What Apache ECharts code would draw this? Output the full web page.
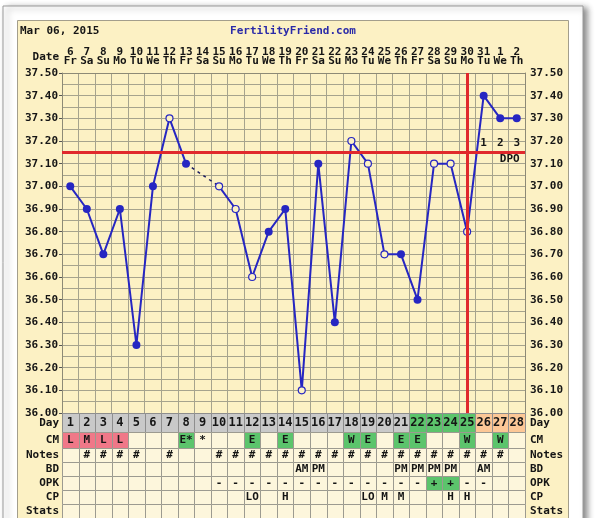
<!DOCTYPE html>
<html>
<head>
<meta charset="utf-8">
<script src="https://cdn.jsdelivr.net/npm/echarts@6/dist/echarts.min.js"></script>
<style>
html,body{margin:0;padding:0;background:#ffffff;}
#chart{width:600px;height:518px;}
</style>
</head>
<body>
<div id="chart"></div>
<script>
// ---------- data ----------
const chartDate = 'Mar 06, 2015';
const siteName = 'FertilityFriend.com';
const cycleDays = ['1','2','3','4','5','6','7','8','9','10','11','12','13','14','15','16','17','18','19','20','21','22','23','24','25','26','27','28'];
const dates = ['6','7','8','9','10','11','12','13','14','15','16','17','18','19','20','21','22','23','24','25','26','27','28','29','30','31','1','2'];
const weekdays = ['Fr','Sa','Su','Mo','Tu','We','Th','Fr','Sa','Su','Mo','Tu','We','Th','Fr','Sa','Su','Mo','Tu','We','Th','Fr','Sa','Su','Mo','Tu','We','Th'];
const temps = [37.00,36.90,36.70,36.90,36.30,37.00,37.30,37.10,null,37.00,36.90,36.60,36.80,36.90,36.10,37.10,36.40,37.20,37.10,36.70,36.70,36.50,37.10,37.10,36.80,37.40,37.30,37.30];
const openMarks = [0,0,0,0,0,0,1,0,0,1,1,1,0,0,1,0,0,1,1,1,0,0,1,1,1,0,0,0];
const coverline = 37.15;
const ovulationDay = '25';
const fertileDays = ['22','23','24','25'];
const dpoDays = ['26','27','28'];
const dpoLabels = ['1','2','3'];
const tempTicks = ['36.00','36.10','36.20','36.30','36.40','36.50','36.60','36.70','36.80','36.90','37.00','37.10','37.20','37.30','37.40','37.50'];
const rowNames = ['Day','CM','Notes','BD','OPK','CP','Stats'];
const cm    = ['L','M','L','L','','','','E*','*','','','E','','E','','','','W','E','','E','E','','','W','','W',''];
const notes = ['','#','#','#','#','','#','','','#','#','#','#','#','#','#','#','#','#','#','#','#','#','#','#','#','#',''];
const bd    = ['','','','','','','','','','','','','','','AM','PM','','','','','PM','PM','PM','PM','','AM','',''];
const opk   = ['','','','','','','','','','-','-','-','-','-','-','-','-','-','-','-','-','-','+','+','-','-','',''];
const cp    = ['','','','','','','','','','','','LO','','H','','','','','LO','M','M','','','H','H','','',''];
const stats = ['','','','','','','','','','','','','','','','','','','','','','','','','','','',''];

// ---------- styles ----------
const FONT = '"DejaVu Sans Mono", monospace';
const BEIGE = '#fcf1c4';
const CELL = '#fdf6dc';
const GRIDC = '#a6a38d';
const BLUE = '#2626c2';
const RED = '#e0282c';
const TXT = '#151515';
const rowWeights = [19,16,14,14,14,14,14];

const tableRows = [cycleDays, cm, notes, bd, opk, cp, stats];

function cellFill(r, d) {
  const v = tableRows[r][d];
  if (r === 0) {
    if (fertileDays.indexOf(cycleDays[d]) >= 0) return '#5cc46c';
    if (Number(cycleDays[d]) > Number(ovulationDay)) return '#fcc796';
    return '#c9c9c9';
  }
  if (r === 1) {
    if (v === 'L' || v === 'M') return '#f07888';
    if (v === 'E' || v === 'W' || v === 'E*') return '#5cc46c';
  }
  if (r === 4 && v === '+') return '#5cc46c';
  return CELL;
}

function rowBounds(cs, r) {
  const total = rowWeights.reduce((a, b) => a + b, 0);
  let y0 = cs.y;
  for (let i = 0; i < r; i++) y0 += cs.height * rowWeights[i] / total;
  return [y0, cs.height * rowWeights[r] / total];
}

const cellData = [];
for (let r = 0; r < rowNames.length; r++)
  for (let d = 0; d < cycleDays.length; d++) cellData.push([d, r]);

const tempData = temps.map((t, i) => {
  if (t === null) return '-';
  const open = openMarks[i] === 1;
  return {
    value: t,
    symbol: 'circle',
    symbolSize: open ? 7 : 8,
    itemStyle: open ? {color: BEIGE, borderColor: BLUE, borderWidth: 1.2} : {color: BLUE, borderWidth: 0}
  };
});
const gapData = temps.map((t, i) => {
  if (t === null) return '-';
  const near = (i > 0 && temps[i - 1] === null) || (i < temps.length - 1 && temps[i + 1] === null);
  return near ? t : '-';
});

const chart = echarts.init(document.getElementById('chart'), null, {renderer: 'canvas'});
const labelFont = {fontFamily: FONT, fontWeight: 'bold', fontSize: 11, color: TXT};

const option = {
  animation: false,
  backgroundColor: '#ffffff',
  graphic: [
    {type: 'rect', z: -100, shape: {x: 3, y: 6, width: 580, height: 530},
      style: {fill: '#ffffff', stroke: '#9a9a9a', lineWidth: 1, shadowBlur: 6, shadowOffsetX: 4, shadowOffsetY: 2, shadowColor: 'rgba(0,0,0,0.45)'}},
    {type: 'rect', z: -90, shape: {x: 17.5, y: 20.5, width: 551, height: 520},
      style: {fill: BEIGE, stroke: '#a39e8c', lineWidth: 1}},
    {type: 'text', z: 10, style: {text: chartDate, x: 20, y: 31, verticalAlign: 'middle', font: 'bold 11px ' + FONT, fill: TXT}},
    {type: 'text', z: 10, style: {text: siteName, x: 293, y: 31, align: 'center', verticalAlign: 'middle', font: 'bold 11px ' + FONT, fill: '#2a2aa8'}},
    {type: 'text', z: 10, style: {text: 'Date', x: 59, y: 57, align: 'right', verticalAlign: 'middle', font: 'bold 11px ' + FONT, fill: TXT}}
  ],
  grid: [
    {left: 62, top: 73, width: 463, height: 340, show: true, backgroundColor: BEIGE, borderWidth: 0},
    {left: 62, top: 413, width: 463, height: 105, show: false}
  ],
  xAxis: [
    {gridIndex: 0, type: 'category', data: cycleDays, position: 'top', boundaryGap: true,
      axisLine: {show: true, lineStyle: {color: '#8d8a76', width: 1}},
      axisTick: {show: false},
      splitLine: {show: true, interval: 0, lineStyle: {color: GRIDC, width: 1}},
      axisLabel: Object.assign({interval: 0, margin: 7, lineHeight: 9,
        formatter: (v, i) => dates[i] + '\n' + weekdays[i]}, labelFont)},
    {gridIndex: 1, type: 'category', data: cycleDays, show: false, boundaryGap: true}
  ],
  yAxis: [
    {gridIndex: 0, type: 'value', min: 36, max: 37.5, interval: 0.1, position: 'left',
      axisLine: {show: true, lineStyle: {color: '#8d8a76'}},
      axisTick: {show: true, length: 3, lineStyle: {color: '#555'}},
      splitLine: {show: true, lineStyle: {color: GRIDC, width: 1}},
      minorTick: {show: false, splitNumber: 2},
      minorSplitLine: {show: true, lineStyle: {color: GRIDC, width: 1}},
      axisLabel: Object.assign({margin: 4, formatter: v => tempTicks[Math.round((v - 36) * 10)] || v.toFixed(2)}, labelFont)},
    {gridIndex: 0, type: 'value', min: 36, max: 37.5, interval: 0.1, position: 'right',
      axisLine: {show: true, lineStyle: {color: '#8d8a76'}},
      axisTick: {show: false},
      splitLine: {show: false},
      axisLabel: Object.assign({margin: 5, formatter: v => tempTicks[Math.round((v - 36) * 10)] || v.toFixed(2)}, labelFont)},
    {gridIndex: 1, type: 'value', min: 0, max: 1, show: false}
  ],
  series: [
    {
      type: 'line', xAxisIndex: 0, yAxisIndex: 0, z: 1, data: [], symbol: 'none',
      markLine: {
        silent: true, symbol: ['none', 'none'], label: {show: false},
        lineStyle: {color: RED, width: 3, type: 'solid'},
        data: [{yAxis: coverline}, {xAxis: ovulationDay}]
      }
    },
    {
      type: 'line', xAxisIndex: 0, yAxisIndex: 0, z: 3, data: gapData, symbol: 'none',
      connectNulls: true,
      lineStyle: {color: '#1c1c60', width: 1.5, type: [3, 4]}
    },
    {
      type: 'line', xAxisIndex: 0, yAxisIndex: 0, z: 4, data: tempData, connectNulls: false,
      showAllSymbol: true,
      lineStyle: {color: BLUE, width: 2},
      itemStyle: {color: BLUE},
      markPoint: {
        symbol: 'circle', symbolSize: 0, silent: true,
        label: Object.assign({show: true, position: 'inside'}, labelFont),
        data: dpoDays.map((d, i) => ({coord: [d, 37.19], label: {formatter: dpoLabels[i]}}))
          .concat([{coord: [dpoDays[dpoDays.length - 1], 37.12], label: {formatter: 'DPO', offset: [-7, 0]}}])
      }
    },
    {
      type: 'custom', xAxisIndex: 1, yAxisIndex: 2, data: cellData, z: 5,
      renderItem: function (params, api) {
        const d = api.value(0), r = api.value(1);
        const cs = params.coordSys;
        const cx = api.coord([d, 0])[0];
        const w = api.size([1, 0])[0];
        const b = rowBounds(cs, r);
        const txt = tableRows[r][d];
        return {
          type: 'group',
          children: [
            {type: 'rect', shape: {x: Math.round(cx - w / 2) + 0.5, y: Math.round(b[0]) + 0.5, width: Math.round(cx + w / 2) - Math.round(cx - w / 2), height: Math.round(b[0] + b[1]) - Math.round(b[0])},
              style: {fill: cellFill(r, d), stroke: r === 0 ? '#8e8e8e' : '#9c9a90', lineWidth: 1}},
            {type: 'text', style: {text: txt, x: cx, y: b[0] + b[1] / 2 + 0.5, align: 'center', verticalAlign: 'middle',
              font: 'bold ' + (r === 0 ? 12 : 11) + 'px ' + FONT, fill: TXT}}
          ]
        };
      }
    },
    {
      type: 'custom', xAxisIndex: 1, yAxisIndex: 2, data: rowNames.map((n, r) => [0, r]), z: 5,
      renderItem: function (params, api) {
        const r = api.value(1);
        const cs = params.coordSys;
        const b = rowBounds(cs, r);
        const y = b[0] + b[1] / 2 + 0.5;
        return {
          type: 'group',
          children: [
            {type: 'text', style: {text: rowNames[r], x: cs.x - 3, y: y, align: 'right', verticalAlign: 'middle', font: 'bold 11px ' + FONT, fill: TXT}},
            {type: 'text', style: {text: rowNames[r], x: cs.x + cs.width + 5, y: y, align: 'left', verticalAlign: 'middle', font: 'bold 11px ' + FONT, fill: TXT}}
          ]
        };
      }
    }
  ]
};
chart.setOption(option);
</script>
</body>
</html>
